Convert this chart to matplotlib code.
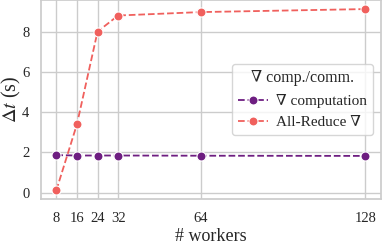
import matplotlib
matplotlib.use("Agg")
import matplotlib.pyplot as plt
import seaborn as sns

workers = [8, 16, 24, 32, 64, 128]
comp = [1.87, 1.85, 1.85, 1.85, 1.84, 1.83]
allreduce = [0.12, 3.4, 8.0, 8.8, 8.97, 9.12]
xticks = [8, 16, 24, 32, 64, 128]
yticks = [0, 2, 4, 6, 8]

sns.set_theme(style="whitegrid")
plt.rcParams['font.family'] = ['Liberation Serif', 'DejaVu Serif']
plt.rcParams['mathtext.fontset'] = 'stix'

fig = plt.figure(figsize=(3.82, 2.45), dpi=100)
ax = fig.add_axes([0.107, 0.186, 0.890, 0.814])

c_comp = '#6e1e81'
c_ar = '#f0605d'
ax.plot(workers, comp, linestyle='--', marker='o', color=c_comp, markersize=6.5,
        markeredgecolor='white', markeredgewidth=0.8, linewidth=1.3, label='∇ computation')
ax.plot(workers, allreduce, linestyle='--', marker='o', color=c_ar, markersize=6.5,
        markeredgecolor='white', markeredgewidth=0.8, linewidth=1.3, label='All-Reduce ∇')

ax.set_xticks(xticks)
ax.set_yticks(yticks)
ax.tick_params(axis='x', labelsize=10.5, pad=3)
ax.tick_params(axis='y', labelsize=10.5, pad=2.2)
ax.set_xlabel('# workers', fontsize=13, labelpad=2.5)
ax.set_ylabel(r'$\Delta t$ (s)', fontsize=14.5)
ax.yaxis.set_label_coords(-0.052, 0.5)

leg = ax.legend(title='∇ comp./comm.', loc='center right', fontsize=11, title_fontsize=11.5,
                frameon=True, borderaxespad=0.5, handletextpad=0.5)

fig.savefig('out.png', dpi=100)
